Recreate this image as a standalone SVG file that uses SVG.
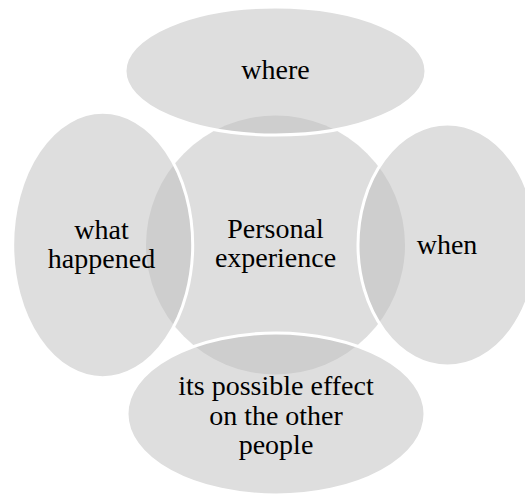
<svg xmlns="http://www.w3.org/2000/svg" width="525" height="495" viewBox="0 0 525 495">
<style>
.shape{fill:#bfbfbf;fill-opacity:0.515;stroke:#ffffff;stroke-width:3}
.center{fill:#bfbfbf;fill-opacity:0.515;stroke:none}
.lbl{font-family:"Liberation Serif","Times New Roman",serif;font-size:28px;fill:#000000;text-anchor:middle}
</style>
<rect width="525" height="495" fill="#ffffff"/>
<g id="connectors"/>
<g id="node-center">
<circle class="center" cx="275.5" cy="245" r="129.5"/>
<text class="lbl" x="275.5" y="237.5">Personal</text>
<text class="lbl" x="275.5" y="267">experience</text>
</g>
<g id="node-where">
<ellipse class="shape" cx="275.5" cy="71" rx="150.5" ry="64"/>
<text class="lbl" x="275.5" y="78.5">where</text>
</g>
<g id="node-what">
<ellipse class="shape" cx="102.7" cy="245" rx="90" ry="132.7"/>
<text class="lbl" x="101.5" y="239">what</text>
<text class="lbl" x="101.5" y="268">happened</text>
</g>
<g id="node-when">
<ellipse class="shape" cx="447.5" cy="245" rx="89.5" ry="121"/>
<text class="lbl" x="447" y="254">when</text>
</g>
<g id="node-effect">
<ellipse class="shape" cx="276" cy="414" rx="149" ry="81"/>
<text class="lbl" x="276" y="395">its possible effect</text>
<text class="lbl" x="276" y="424.5">on the other</text>
<text class="lbl" x="276" y="453.5">people</text>
</g>
</svg>
